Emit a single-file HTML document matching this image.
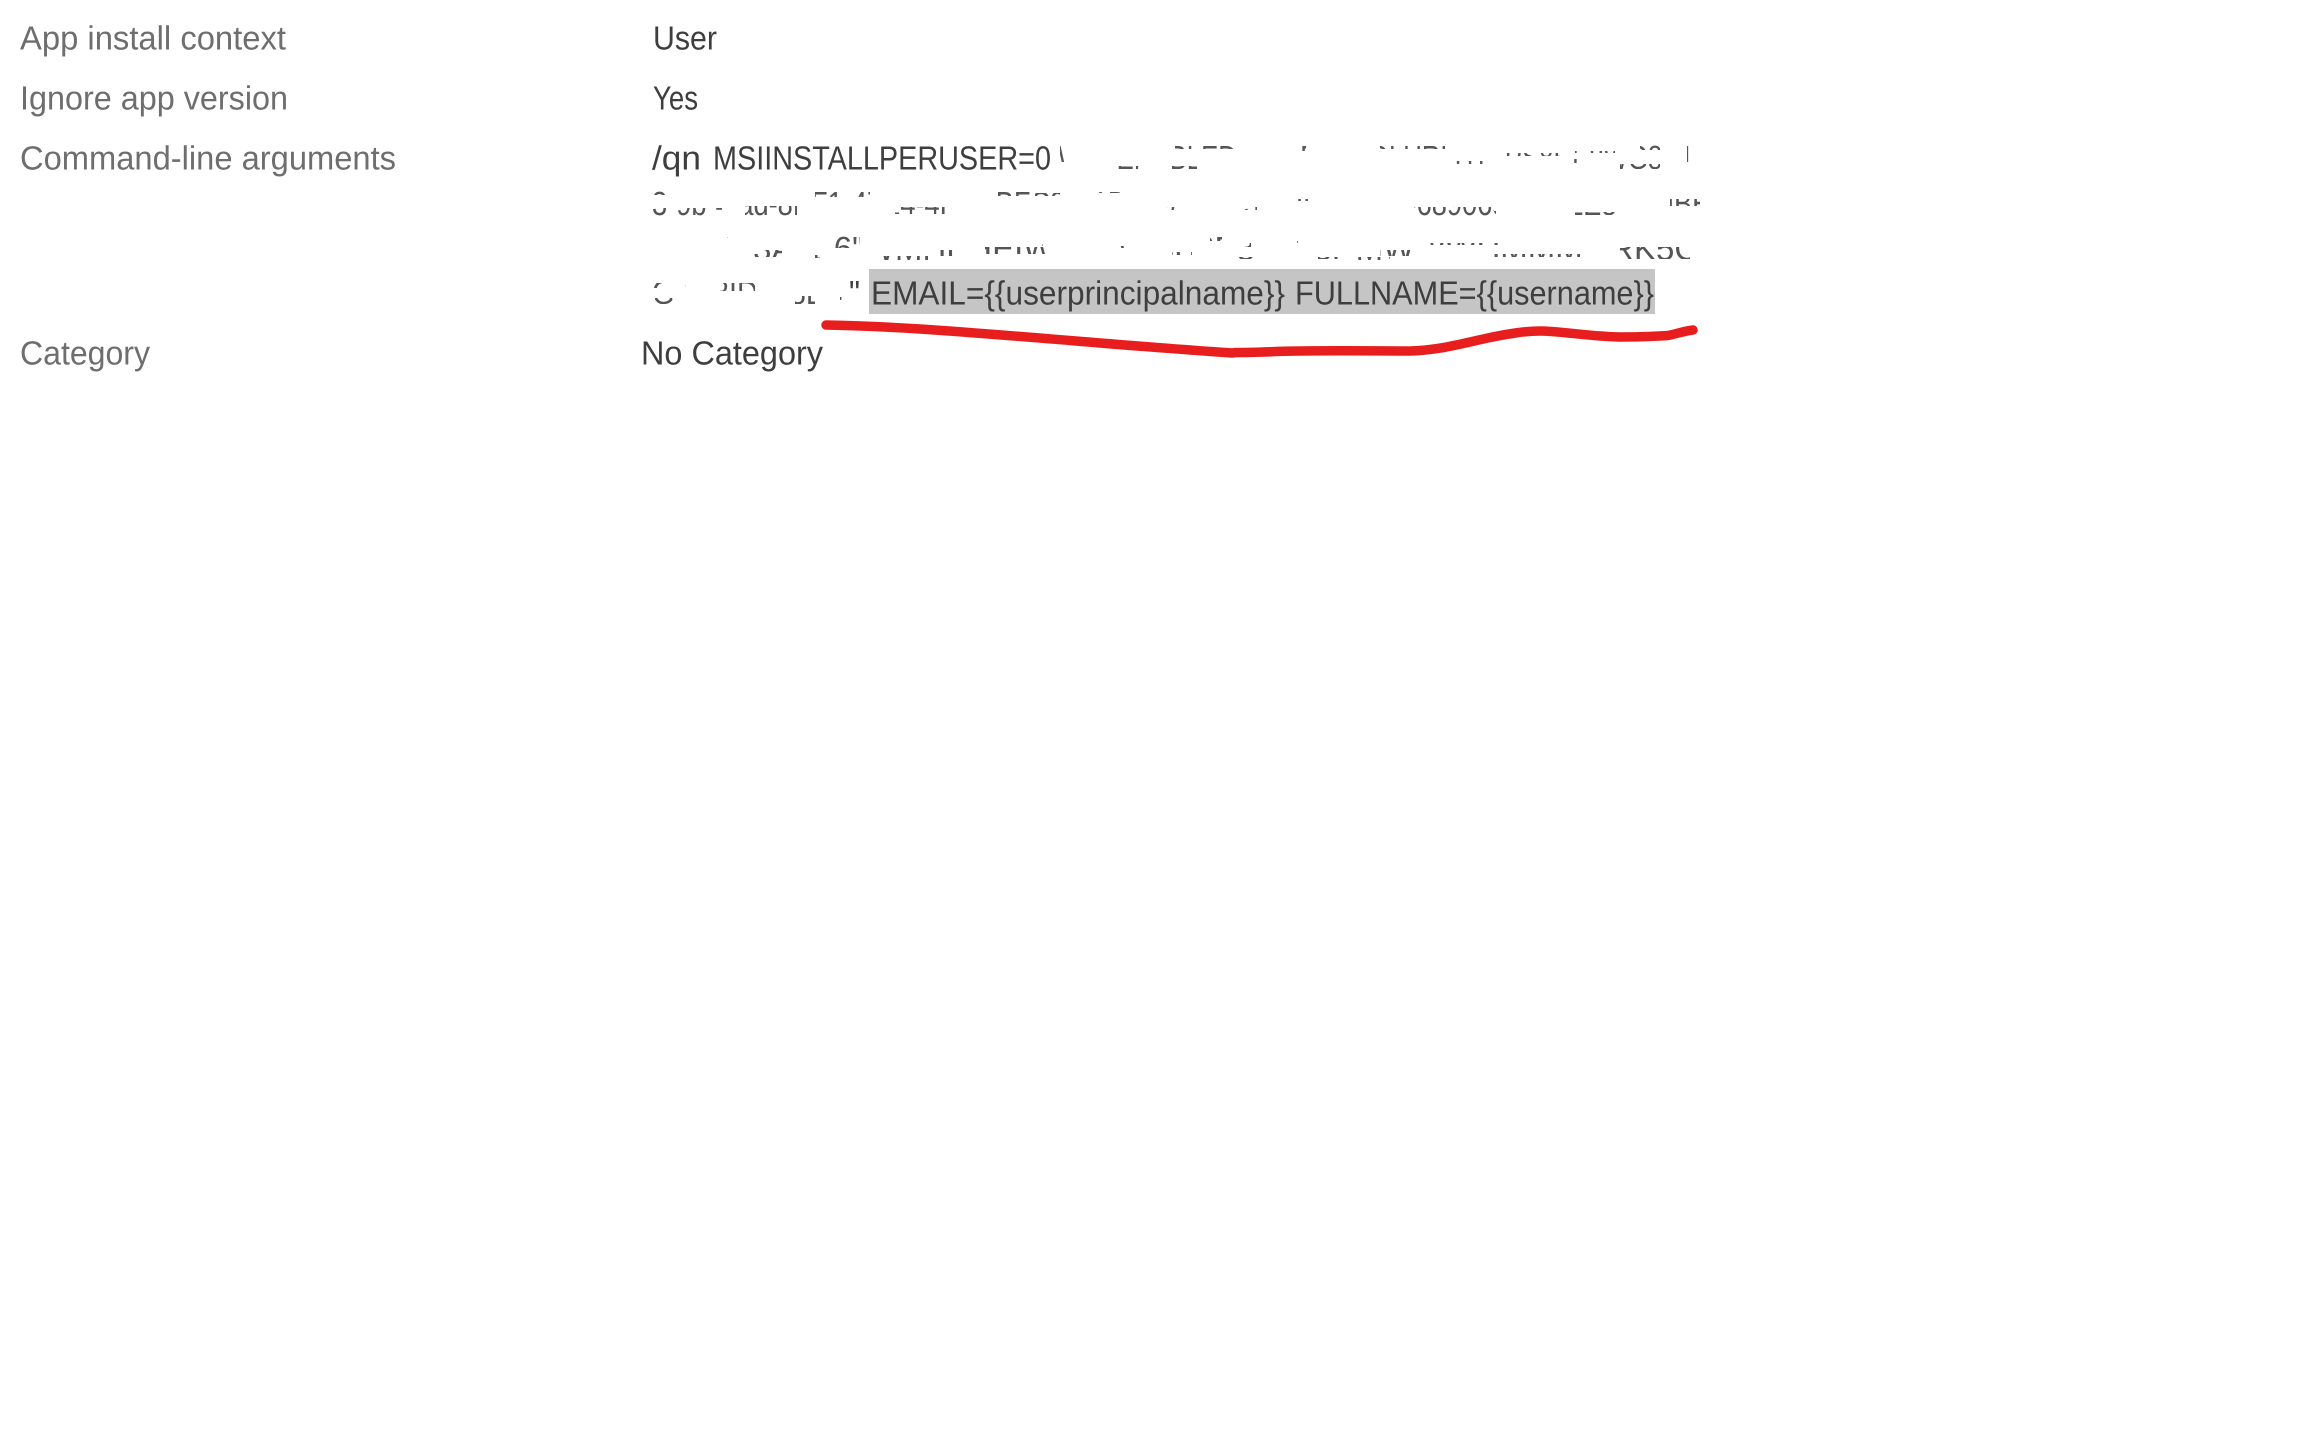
<!DOCTYPE html>
<html lang="en">
<head>
<meta charset="utf-8">
<title>App settings</title>
<style>
html,body{margin:0;padding:0;background:#fff;width:2304px;height:1440px;overflow:hidden}
svg{display:block}
text{font-family:"Liberation Sans",sans-serif;font-size:33.500px;text-rendering:geometricPrecision}
.l{fill:#6e6e6e}
.v{fill:#3e3e3e}
.f{fill:#555}
</style>
</head>
<body>
<svg width="2304" height="1440" viewBox="0 0 2304 1440" xmlns="http://www.w3.org/2000/svg">
<defs>
<clipPath id="r1">
<rect x="1060" y="146" width="5" height="16"/><rect x="1117" y="166" width="22" height="3"/><rect x="1175" y="146" width="65" height="3"/><rect x="1172" y="166" width="25" height="3"/><rect x="1280" y="148" width="5" height="2"/><rect x="1300" y="146" width="6" height="5"/><rect x="1380" y="146" width="65" height="3"/><rect x="1450" y="147" width="5" height="6"/><rect x="1500" y="153" width="60" height="3"/><rect x="1452" y="161" width="40" height="3"/><rect x="1575" y="151" width="40" height="2"/><rect x="1570" y="159" width="10" height="4"/><rect x="1620" y="164" width="40" height="5"/><rect x="1640" y="145" width="20" height="5"/><rect x="1687" y="145" width="4" height="17"/>
</clipPath>
<clipPath id="r2">
<rect x="652" y="190" width="14" height="5"/><rect x="652" y="208" width="70" height="8"/><rect x="745" y="206" width="52" height="10"/><rect x="815" y="191" width="55" height="6"/><rect x="895" y="207" width="50" height="7"/><rect x="990" y="191" width="40" height="5"/><rect x="1035" y="193" width="25" height="3"/><rect x="1095" y="190" width="25" height="3"/><rect x="1165" y="207" width="12" height="3"/><rect x="1245" y="207" width="12" height="3"/><rect x="1290" y="199" width="30" height="2"/><rect x="1380" y="190" width="8" height="2"/><rect x="1414" y="207" width="80" height="9"/><rect x="1492" y="211" width="4" height="4"/><rect x="1575" y="212" width="40" height="3"/><rect x="1670" y="199" width="30" height="7"/>
</clipPath>
<clipPath id="r3">
<rect x="722" y="236" width="6" height="2"/><rect x="752" y="250" width="30" height="7"/><rect x="815" y="255" width="5" height="3"/><rect x="835" y="235" width="25" height="13"/><rect x="878" y="256" width="50" height="5"/><rect x="930" y="250" width="30" height="6"/><rect x="985" y="247" width="60" height="7"/><rect x="1042" y="244" width="5" height="2"/><rect x="1120" y="246" width="8" height="2"/><rect x="1172" y="252" width="20" height="3"/><rect x="1210" y="236" width="12" height="5"/><rect x="1245" y="243" width="6" height="4"/><rect x="1293" y="241" width="5" height="2"/><rect x="1238" y="257" width="18" height="2"/><rect x="1318" y="257" width="20" height="2"/><rect x="1355" y="257" width="35" height="3"/><rect x="1380" y="250" width="30" height="6"/><rect x="1430" y="243" width="70" height="2"/><rect x="1490" y="254" width="90" height="3"/><rect x="1620" y="247" width="70" height="12"/>
</clipPath>
<clipPath id="r4">
<rect x="652" y="283" width="10" height="5"/><rect x="655" y="298" width="20" height="6"/><rect x="680" y="285" width="6" height="2"/><rect x="720" y="283" width="35" height="8"/><rect x="782" y="280" width="5" height="13"/><rect x="795" y="296" width="20" height="8"/><rect x="840" y="297" width="5" height="3"/><rect x="860" y="295" width="6" height="8"/>
</clipPath>
</defs>

<text class="l" x="20" y="49.700" textLength="266" lengthAdjust="spacingAndGlyphs">App install context</text>
<text class="l" x="20" y="109.700" textLength="268" lengthAdjust="spacingAndGlyphs">Ignore app version</text>
<text class="l" x="20" y="169.700" textLength="376" lengthAdjust="spacingAndGlyphs">Command-line arguments</text>
<text class="l" x="20" y="364.500" textLength="130" lengthAdjust="spacingAndGlyphs">Category</text>

<text class="v" x="653" y="49.700" textLength="64" lengthAdjust="spacingAndGlyphs">User</text>
<text class="v" x="653" y="109.700" textLength="45" lengthAdjust="spacingAndGlyphs">Yes</text>
<text class="v" x="652" y="169.500" textLength="49" lengthAdjust="spacingAndGlyphs">/qn</text>
<text class="v" x="713" y="169.500" textLength="338" lengthAdjust="spacingAndGlyphs">MSIINSTALLPERUSER=0</text>
<text class="v" x="641" y="364.500" textLength="182" lengthAdjust="spacingAndGlyphs">No Category</text>

<g clip-path="url(#r1)"><text class="f" x="1058" y="169" textLength="640" lengthAdjust="spacingAndGlyphs">WEBENABLEDATAKEYSSOLURLHTTPS8HE8WG8I8L</text></g>
<g clip-path="url(#r2)"><text class="f" x="652" y="215" textLength="1078" lengthAdjust="spacingAndGlyphs">3-9b-4fad-8BF1-47E4-4F88-BFC3-A1D2E96B7C30-HEMNWK-689065-Z8BZE8HBHBHB</text></g>
<g clip-path="url(#r3)"><text class="f" x="700" y="260" textLength="1022" lengthAdjust="spacingAndGlyphs">WB3A8B6"WMHBHEIWBMWA8B8E8B128HMWWWHMMMMRK5CH</text></g>
<g clip-path="url(#r4)"><text class="f" x="652" y="304" textLength="210" lengthAdjust="spacingAndGlyphs">G3G8ID8L8D8V</text></g>
<text class="v" x="849" y="304" textLength="11" lengthAdjust="spacingAndGlyphs">"</text>

<rect x="869" y="269" width="786" height="45" fill="#c5c5c5"/>
<text class="v" x="871" y="304.500" textLength="414" lengthAdjust="spacingAndGlyphs">EMAIL={{userprincipalname}}</text>
<text class="v" x="1295" y="304.500" textLength="359" lengthAdjust="spacingAndGlyphs">FULLNAME={{username}}</text>

<path d="M826 325 C850 325.500 880 326.500 920 329 C980 333 1040 338 1100 343 C1150 347 1200 351 1232 353 L1236 352.500 C1260 352.500 1280 351 1300 351 C1340 350.500 1380 351 1410 351 C1440 350 1460 344 1490 337.500 C1510 333.500 1525 331 1540 331 C1560 331 1590 336.500 1620 337 C1640 337 1660 336 1668 335.500 C1676 334 1684 331 1693 330" fill="none" stroke="#e81e1e" stroke-width="9.500" stroke-linecap="round" stroke-linejoin="round"/>
</svg>
</body>
</html>
